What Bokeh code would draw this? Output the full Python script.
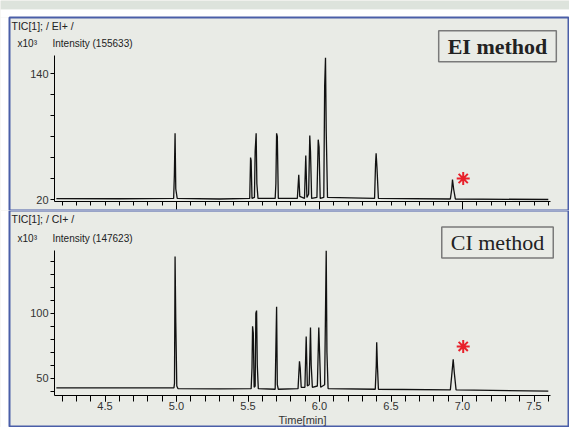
from bokeh.plotting import figure
from bokeh.layouts import column
from bokeh.models import (FixedTicker, NumeralTickFormatter, Label, LinearAxis, Range1d,
                          BoxAnnotation)
from bokeh.embed import file_html
from bokeh.resources import INLINE

# ---------------- data ----------------
EI_TIME = [4.16, 4.60, 4.980, 4.985, 4.990, 4.995, 5.005, 5.30, 5.512, 5.518, 5.522, 5.528,
           5.545, 5.550, 5.557, 5.562, 5.570, 5.690, 5.695, 5.700, 5.705, 5.712, 5.845, 5.855,
           5.862, 5.895, 5.904, 5.912, 5.924, 5.932, 5.937, 5.945, 5.982, 5.991, 5.997, 6.005,
           6.030, 6.036, 6.042, 6.047, 6.056, 6.385, 6.392, 6.396, 6.402, 6.412, 6.915, 6.925,
           6.930, 6.938, 6.950, 7.60]
EI_INT = [20.8, 20.7, 21, 43, 83, 30, 21, 20.5, 21, 60, 57, 21,
          22, 66, 83, 35, 21, 21, 35, 83, 80, 21, 21, 43.5,
          23, 21, 62, 22, 25, 81, 66, 21, 22, 77, 70, 21,
          22, 128, 155, 85, 22, 21, 54, 64, 50, 21, 20.5, 30,
          39, 30, 20.5, 20]

CI_TIME = [4.16, 4.60, 4.982, 4.986, 4.990, 4.995, 5.002, 5.010, 5.30, 5.522, 5.528, 5.532,
           5.537, 5.543, 5.550, 5.555, 5.560, 5.565, 5.572, 5.690, 5.696, 5.700, 5.705, 5.712,
           5.850, 5.860, 5.865, 5.872, 5.898, 5.907, 5.915, 5.928, 5.937, 5.942, 5.950, 5.985,
           5.995, 6.000, 6.008, 6.036, 6.047, 6.052, 6.060, 6.390, 6.397, 6.400, 6.405, 6.412,
           6.915, 6.927, 6.935, 6.942, 6.955, 7.60]
CI_INT = [42.6, 42.5, 42.6, 46, 143.6, 93, 44, 42, 41.8, 42, 58, 90,
          85, 43, 44, 100, 102, 60, 42, 41.5, 80, 105, 45, 41.5,
          42, 63, 58, 43, 43, 82, 44, 45, 89, 60, 43, 44,
          89, 72, 43, 45, 148, 70, 42, 41.5, 60, 77.7, 60, 41.5,
          41, 55, 64.6, 55, 41, 40]

STAR_TIME = [7.005]
EI_STAR = [40.0]
CI_STAR = [74.4]

X_MAJOR_TOP = [5.0, 6.0, 7.0]
X_MAJOR_BOTTOM = [4.5, 5.0, 5.5, 6.0, 6.5, 7.0, 7.5]
X_MINOR = [round(4.2 + 0.1 * i, 1) for i in range(35)]
EI_Y_MAJOR = [20, 140]
EI_Y_MINOR = [40, 60, 80, 100, 120]
CI_Y_MAJOR = [50, 100]
CI_Y_MINOR = [40, 60, 70, 80, 90, 110, 120, 130, 140]

EI_TITLE = "TIC[1]; / EI+ /"
CI_TITLE = "TIC[1]; / CI+ /"
EI_INTENSITY = "Intensity (155633)"
CI_INTENSITY = "Intensity (147623)"
SCALE = "x10\u00b3"

BG = "#e9ebe6"
BAND = "#dde3dc"
FRAME = "#4a5ea8"
W = 569
FONT = "Liberation Sans"

X_VIEW = (3.76923, 7.74825)      # whole canvas width
X_PANEL = (3.83217, 7.74126)     # inner width of a panel (inside the blue frame)
X_AXIS = (4.1469, 7.615)         # extent of the drawn time axis


def style_axis(ax):
    ax.axis_line_color = "black"
    ax.major_tick_line_color = "black"
    ax.minor_tick_line_color = "black"
    ax.major_tick_in = 0
    ax.minor_tick_in = 0
    ax.major_label_text_font = FONT
    ax.major_label_text_font_size = "11px"
    ax.major_label_text_color = "#333333"


def white_box(**kw):
    return BoxAnnotation(fill_color="white", fill_alpha=1, line_color=None,
                         level="underlay", **kw)


def base_fig(height, view, ybounds, xloc, panel_top, panel_bottom):
    p = figure(width=W, height=height, output_backend="svg", toolbar_location=None,
               x_range=Range1d(*X_VIEW), y_range=Range1d(*view),
               min_border_left=0, min_border_right=0,
               min_border_top=0, min_border_bottom=0)
    p.background_fill_color = BG
    p.border_fill_color = "white"
    p.outline_line_color = None
    p.grid.visible = False
    # window margins around the blue-framed panel
    p.add_layout(white_box(right=X_PANEL[0], top=panel_top))
    p.add_layout(white_box(left=X_PANEL[1], top=panel_top))
    if panel_bottom is not None:
        p.add_layout(white_box(top=panel_bottom))
    p.add_layout(BoxAnnotation(left=X_PANEL[0], right=X_PANEL[1], top=panel_top,
                               bottom=panel_bottom, fill_color=None, line_color=FRAME,
                               line_width=2, line_alpha=1))
    for ax in (p.xaxis[0], p.yaxis[0]):
        style_axis(ax)
    p.yaxis.fixed_location = X_AXIS[0]
    p.yaxis.bounds = ybounds
    p.yaxis.major_tick_out = 4
    p.yaxis.minor_tick_out = 4
    p.yaxis.major_label_standoff = 2
    p.xaxis.fixed_location = xloc
    p.xaxis.bounds = X_AXIS
    return p


def add_texts(p, title, intensity, ytitle, yint, method, my, bold, star_y):
    tx = lambda px: X_AXIS[0] + (px - 54) / 143.0
    p.add_layout(Label(x=tx(11), y=ytitle, text=title, text_font=FONT, text_font_size="10.5px",
                       text_color="#222222", text_baseline="middle"))
    p.add_layout(Label(x=tx(17), y=yint, text=SCALE, text_font=FONT, text_font_size="10px",
                       text_color="#222222", text_baseline="middle"))
    p.add_layout(Label(x=tx(52), y=yint, text=intensity, text_font=FONT, text_font_size="10px",
                       text_color="#222222", text_baseline="middle"))
    p.add_layout(Label(x=tx(497), y=my, text=method, text_font="Liberation Serif",
                       text_font_style="bold" if bold else "normal", text_font_size="22px",
                       text_color="#222222", text_align="center", text_baseline="middle",
                       border_line_color="#7a7a7a", border_line_width=1.5,
                       background_fill_color=BG, padding=(9, 3)))
    p.scatter(STAR_TIME, star_y, marker="asterisk", size=13, line_color="#e8202a",
              line_width=2)


# ---------------- top panel (EI) ----------------
EI_VIEW_Y = (9.524, 209.524)
EI_PANEL_TOP = 193.33
EI_BAND_BOTTOM = 200.95
p1 = base_fig(210, EI_VIEW_Y, (18.1, 157.15), 18.1, EI_PANEL_TOP, None)
p1.add_layout(BoxAnnotation(bottom=EI_BAND_BOTTOM, fill_color=BAND, fill_alpha=1,
                            line_color=None, level="underlay"))
p1.add_layout(white_box(top=EI_BAND_BOTTOM, bottom=EI_PANEL_TOP))
p1.line(EI_TIME, EI_INT, line_color="#111111", line_width=1.3)
p1.xaxis.ticker = FixedTicker(ticks=[], minor_ticks=X_MINOR)
p1.xaxis.minor_tick_out = 4
# longer ticks at whole minutes (no labels in this panel)
ax_int = LinearAxis(ticker=FixedTicker(ticks=[], minor_ticks=X_MAJOR_TOP),
                    fixed_location=18.1, bounds=X_AXIS)
style_axis(ax_int)
ax_int.axis_line_color = None
ax_int.minor_tick_out = 8
p1.add_layout(ax_int, "below")
p1.yaxis.ticker = FixedTicker(ticks=EI_Y_MAJOR, minor_ticks=EI_Y_MINOR)
add_texts(p1, EI_TITLE, EI_INTENSITY, 185.7, 168.6, "EI method", 166.0, True, EI_STAR)

# ---------------- bottom panel (CI) ----------------
CI_VIEW_Y = (12.08, 179.0)
CI_PANEL_BOTTOM = 12.846
p2 = base_fig(217, CI_VIEW_Y, (36.7, 148.2), 36.7, None, CI_PANEL_BOTTOM)
p2.line(CI_TIME, CI_INT, line_color="#111111", line_width=1.3)
p2.xaxis.ticker = FixedTicker(ticks=X_MAJOR_BOTTOM, minor_ticks=X_MINOR)
p2.xaxis.formatter = NumeralTickFormatter(format="0.0")
p2.xaxis.major_tick_out = 6
p2.xaxis.minor_tick_out = 6
p2.xaxis.major_label_standoff = 1
p2.xaxis.axis_label = "Time[min]"
p2.xaxis.axis_label_standoff = 0
p2.xaxis.axis_label_text_font = FONT
p2.xaxis.axis_label_text_font_size = "11px"
p2.xaxis.axis_label_text_font_style = "normal"
p2.xaxis.axis_label_text_color = "#333333"
p2.yaxis.ticker = FixedTicker(ticks=CI_Y_MAJOR, minor_ticks=CI_Y_MINOR)
add_texts(p2, CI_TITLE, CI_INTENSITY, 172.6, 157.2, "CI method", 154.4, False, CI_STAR)

layout = column(p1, p2, spacing=0)
open("out.html", "w").write(file_html(layout, INLINE))
